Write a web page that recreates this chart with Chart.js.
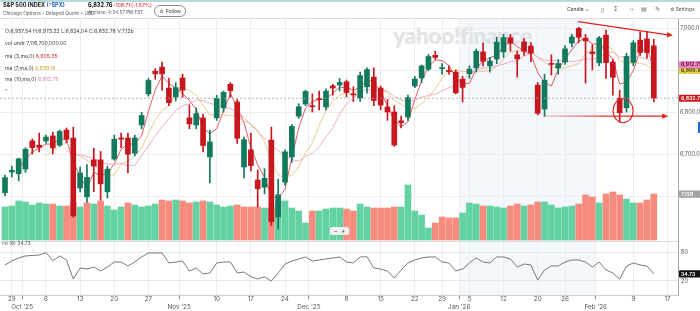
<!DOCTYPE html>
<html>
<head>
<meta charset="utf-8">
<script src="https://cdn.jsdelivr.net/npm/chart.js@4.4.1/dist/chart.umd.min.js"></script>
<style>
  html, body { margin: 0; padding: 0; background: #fff; }
  #wrap { position: relative; width: 700px; height: 311px; overflow: hidden; font-family: Inter, "Noto Sans", sans-serif; }
  #c { position: absolute; left: 0; top: 0; z-index: 2; }
  .t { position: absolute; white-space: nowrap; line-height: 1; z-index: 3; }
  #topline { position: absolute; left: 0; top: 0; width: 700px; height: 1.5px; background: #b7d9d9; z-index: 3; }
  #mark { position: absolute; left: 393px; top: 21px; font: 800 23px Lato, "Liberation Sans", sans-serif; color: #e4e4e4; letter-spacing: -0.6px; z-index: 1; }
  #follow { position: absolute; left: 154px; top: 4.5px; width: 30px; height: 10px; border: 0.8px solid #8a8a8a; border-radius: 6px; font-size: 5px; color: #333; text-align: center; line-height: 10px; z-index: 3; }
  #zoomer { position: absolute; left: 330px; top: 227px; width: 19px; height: 8px; background: #efefef; border-radius: 2px; font-size: 6px; color: #444; text-align: center; line-height: 8px; z-index: 3; }
  #tab { position: absolute; left: 698px; top: 122px; width: 2px; height: 11px; background: #1c6fe0; z-index: 3; }
</style>
</head>
<body>
<div id="wrap">
  <div id="mark">yahoo!finance</div>
  <canvas id="c" width="700" height="311"></canvas>
  <div id="topline"></div>

  <div class="t" style="left:3px;top:2.5px;font-size:5.6px;font-weight:700;color:#1d1d1f">S&amp;P 500 INDEX <span style="color:#2b62d0">(^SPX)</span></div>
  <div class="t" style="left:3px;top:10.5px;font-size:4.8px;color:#5b5b5b">Chicago Options - Delayed Quote • USD</div>
  <div class="t" style="left:88px;top:3px;font-size:5.6px;font-weight:700;color:#111">6,832.76</div>
  <div class="t" style="left:113px;top:3.2px;font-size:5.2px;color:#d1202a">-108.71</div>
  <div class="t" style="left:131px;top:3.2px;font-size:5.2px;color:#d1202a">(-1.57%)</div>
  <div class="t" style="left:88px;top:11px;font-size:4.6px;color:#555">At close: 4:54:57 PM EST</div>
  <div id="follow">☆ Follow</div>
  <div class="t" style="left:567px;top:7px;font-size:5px;color:#333">Candle ⌄</div>
  <div class="t" style="left:601px;top:6.5px;font-size:6px;color:#666">▯</div>
  <div class="t" style="left:614px;top:6.8px;font-size:5.5px;color:#666">Σ</div>
  <div class="t" style="left:629px;top:6.8px;font-size:5.5px;color:#666">⤳</div>
  <div class="t" style="left:641px;top:6.5px;font-size:5.5px;color:#666">▤</div>
  <div class="t" style="left:655px;top:6.5px;font-size:5.5px;color:#666">✎</div>
  <div class="t" style="left:670px;top:7px;font-size:5px;color:#555">⚙ Settings</div>

  <div class="t" id="lgOhlc" style="left:5px;top:28.5px;font-size:5.2px;color:#444"></div>
  <div class="t" id="lgVol" style="left:5px;top:41px;font-size:5.2px;color:#444"></div>
  <div class="t" id="lgMa3" style="left:5px;top:53.5px;font-size:5.2px;color:#444"></div>
  <div class="t" id="lgMa7" style="left:5px;top:65.5px;font-size:5.2px;color:#444"></div>
  <div class="t" id="lgMa10" style="left:5px;top:77px;font-size:5.2px;color:#444"></div>
  <div class="t" style="left:5px;top:89px;font-size:5.5px;color:#666">^</div>
  <div class="t" id="lgRsi" style="left:2px;top:241px;font-size:5px;color:#555"></div>
  <div id="zoomer">−&nbsp;&nbsp;+</div>
  <div id="tab"></div>
</div>

<script>
// trading days shown on the chart, then the empty days the axis runs on to
const dates = [
  '2025-09-26','2025-09-29','2025-09-30',
  '2025-10-01','2025-10-02','2025-10-03','2025-10-06','2025-10-07','2025-10-08','2025-10-09','2025-10-10',
  '2025-10-13','2025-10-14','2025-10-15','2025-10-16','2025-10-17','2025-10-20','2025-10-21','2025-10-22',
  '2025-10-23','2025-10-24','2025-10-27','2025-10-28','2025-10-29','2025-10-30','2025-10-31',
  '2025-11-03','2025-11-04','2025-11-05','2025-11-06','2025-11-07','2025-11-10','2025-11-11','2025-11-12',
  '2025-11-13','2025-11-14','2025-11-17','2025-11-18','2025-11-19','2025-11-20','2025-11-21','2025-11-24',
  '2025-11-25','2025-11-26','2025-11-28',
  '2025-12-01','2025-12-02','2025-12-03','2025-12-04','2025-12-05','2025-12-08','2025-12-09','2025-12-10',
  '2025-12-11','2025-12-12','2025-12-15','2025-12-16','2025-12-17','2025-12-18','2025-12-19','2025-12-22',
  '2025-12-23','2025-12-24','2025-12-26','2025-12-29','2025-12-30','2025-12-31',
  '2026-01-02','2026-01-05','2026-01-06','2026-01-07','2026-01-08','2026-01-09','2026-01-12','2026-01-13',
  '2026-01-14','2026-01-15','2026-01-16','2026-01-20','2026-01-21','2026-01-22','2026-01-23','2026-01-26',
  '2026-01-27','2026-01-28','2026-01-29','2026-01-30',
  '2026-02-02','2026-02-03','2026-02-04','2026-02-05','2026-02-06','2026-02-09','2026-02-10','2026-02-11','2026-02-12'
];
const futureDates = ['2026-02-13','2026-02-17','2026-02-18'];

const opens = [
  6608,6657,6653,6664,6731,6721,6731,6743,6721,6757,6738,6619,6598,6686,6686,6610,6688,6738,6738,6702,
  6769,6843,6897,6907,6857,6836,6881,6786,6769,6786,6693,6786,6810,6866,6824,6669,6710,6638,6621,6733,
  6550,6633,6693,6790,6819,6813,6832,6812,6862,6864,6872,6843,6833,6860,6883,6857,6812,6800,6779,6788,
  6862,6881,6902,6935,6903,6899,6895,6878,6891,6905,6943,6910,6926,6943,6977,6936,6967,6957,6864,6807,
  6915,6905,6919,6964,6999,6976,6943,6917,6983,6919,6833,6810,6918,6971,6974,6957.54
];
const highs = [
  6650,6671,6690,6715,6736,6750,6745,6752,6757,6762,6764,6669,6675,6714,6706,6671,6745,6750,6750,6745,
  6799,6880,6903,6919,6881,6870,6890,6817,6810,6795,6757,6840,6850,6870,6830,6740,6750,6662,6665,6764,
  6640,6710,6770,6820,6852,6843,6850,6855,6866,6880,6876,6860,6895,6905,6905,6862,6830,6815,6790,6840,
  6885,6912,6937,6945,6915,6910,6900,6885,6910,6950,6964,6930,6978,6985,6985,6945,6975,6965,6870,6890,
  6936,6925,6958,6985,7002,6985,6960,6980,6995,6925,6852,6940,6970,6991,6990,6973.22
];
const lows = [
  6600,6645,6636,6656,6700,6705,6726,6700,6718,6727,6550,6610,6585,6610,6590,6595,6685,6715,6655,6695,
  6760,6838,6878,6852,6815,6826,6835,6760,6760,6705,6631,6780,6800,6835,6725,6643,6660,6574,6605,6530,
  6521,6625,6680,6785,6815,6800,6805,6805,6840,6850,6836,6825,6825,6845,6815,6805,6780,6718,6762,6780,
  6858,6870,6898,6925,6890,6890,6843,6824,6880,6895,6910,6895,6915,6930,6945,6883,6935,6920,6793,6790,
  6888,6890,6913,6955,6965,6869,6900,6910,6880,6840,6776,6800,6910,6935,6928,6824.04
];
const closes = [
  6643.70,6661.21,6688.46,6711.20,6715.35,6715.79,6740.28,6714.59,6753.72,6735.11,6552.51,6654.72,6644.31,
  6671.06,6629.07,6664.01,6735.13,6735.35,6699.40,6738.44,6791.69,6875.16,6890.89,6890.59,6822.34,6858.00,
  6851.97,6771.55,6796.29,6720.32,6728.80,6832.43,6846.61,6850.92,6737.49,6734.11,6672.41,6617.32,6642.16,
  6538.76,6602.99,6705.12,6765.88,6812.61,6849.09,6812.63,6829.37,6849.72,6857.12,6870.40,6846.51,6840.51,
  6886.68,6901.00,6827.41,6816.51,6800.26,6721.43,6774.76,6834.50,6878.49,6909.79,6932.05,6929.94,6905.74,
  6896.24,6845.50,6858.47,6902.05,6944.82,6920.93,6921.46,6966.28,6977.27,6963.74,6926.60,6944.47,6940.01,
  6796.86,6875.62,6913.35,6915.61,6950.23,6978.60,6978.03,6969.01,6939.01,6976.44,6917.81,6882.72,6798.40,
  6932.30,6964.82,6941.81,6941.47,6832.76
];
// volume, billions of shares
const volumes = [
  5.11,5.26,6.04,5.88,5.42,5.73,5.57,5.57,5.26,5.26,5.80,5.11,5.73,5.57,6.04,5.26,4.64,5.11,5.73,5.42,
  5.11,5.26,5.57,6.19,6.04,6.19,6.04,5.73,5.88,6.04,5.88,5.42,5.11,5.26,5.42,5.11,5.11,5.11,4.95,5.00,
  6.04,6.04,4.95,4.49,2.63,4.49,4.49,4.80,4.95,4.95,4.80,4.49,5.57,5.11,4.95,4.95,4.95,5.11,5.11,8.51,
  4.49,3.87,1.86,2.63,3.56,3.41,3.41,4.18,5.73,5.57,5.26,5.26,5.11,4.95,5.26,5.57,5.26,5.42,5.88,5.88,
  5.42,4.95,5.11,5.26,5.57,6.97,6.66,5.73,7.12,7.43,6.97,6.35,5.73,5.73,6.19,7.1187
];
const rsi6 = [
  53.1,61.4,67.6,71.8,72.8,73.8,78.6,62.0,71.8,63.5,24.1,46.9,44.8,49.0,40.7,49.0,59.3,59.3,51.1,59.3,
  69.7,78.0,78.0,78.0,57.3,59.3,61.4,40.7,46.9,34.5,36.6,57.3,59.3,59.3,36.6,38.6,28.9,24.1,28.9,20.0,
  36.6,55.2,61.4,65.5,69.7,61.4,63.5,65.5,67.6,69.7,59.3,57.3,69.7,70.3,46.9,44.8,40.7,26.2,42.8,57.3,
  63.5,67.6,69.7,69.7,59.3,57.3,40.7,44.8,57.3,67.6,59.3,57.3,69.7,69.7,65.5,49.0,55.2,53.1,22.1,42.8,
  51.1,51.1,59.3,63.5,63.5,59.3,49.0,59.3,42.8,36.6,24.1,51.1,57.3,53.1,51.1,34.73
];
const maPeriods = [3, 7, 10];

// hand-drawn marks on the reference, in (day index, price) terms
const trendArrow = { x0: 83.9, p0: 7015, x1: 97.8, p1: 6982 };
const supportArrow = { x0: 78.8, p0: 6790, x1: 97.1, p1: 6790 };
const ring = { x: 90.5, p: 6803 };

const UP = '#12795d', DN = '#c8161e';
const VOL_UP = '#62d2a2', VOL_DN = '#f78b7d';
const MA_COL = ['#de4a4f', '#ecc57e', '#eea3c6'];
const MA_TXT = ['#d42a30', '#c8b03a', '#e07bb2'];
const FONT = 'Inter, "Noto Sans", sans-serif';

const X_MIN = -0.732, X_MAX = 98.54;
const P_MIN = 6492.86, P_MAX = 7021.43;
const V_MIN = -8.51, V_MAX = 34.2;
const R_MIN = -8.97, R_MAX = 102.76;

function movingAvg(n) {
  return closes.map((c, i) => {
    if (i < n - 1) return null;
    let s = 0;
    for (let k = i - n + 1; k <= i; k++) s += closes[k];
    return s / n;
  });
}
const mas = maPeriods.map(movingAvg);
const last = closes.length - 1;
const fmt = v => v.toLocaleString('en-US', { minimumFractionDigits: 2, maximumFractionDigits: 2 });

// x ticks: first trading day of each week, month starts on the boundary line
const monNames = ['Jan','Feb','Mar','Apr','May','Jun','Jul','Aug','Sep','Oct','Nov','Dec'];
const allDays = dates.concat(futureDates).map(s => new Date(s + 'T12:00:00'));
const xTicks = [];
allDays.forEach((d, i) => {
  if (i === 0) return;
  const p = allDays[i - 1];
  if (d.getMonth() !== p.getMonth()) {
    xTicks.push({ v: i - 0.5, label: ['', monNames[d.getMonth()] + " '" + String(d.getFullYear()).slice(2)], month: true });
  } else if (d.getDay() < p.getDay() || (d - p) > 4 * 864e5) {
    xTicks.push({ v: i, label: String(d.getDate()), month: false });
  }
});
const tickMap = new Map(xTicks.map(t => [t.v, t]));

const candleCol = closes.map((c, i) => c >= opens[i] ? UP : DN);
const volCol = closes.map((c, i) => (i === 0 || c >= closes[i - 1]) ? VOL_UP : VOL_DN);
const pts = arr => arr.map((v, i) => ({ x: i, y: v }));

// legend text
document.getElementById('lgOhlc').textContent =
  'O:' + fmt(opens[last]) + '  H:' + fmt(highs[last]) + '  L:' + fmt(lows[last]) + '  C:' + fmt(closes[last]) +
  '  V:' + volumes[last].toFixed(2) + 'b';
document.getElementById('lgVol').textContent = 'vol undr  ' + fmt(Math.round(volumes[last] * 1e9));
maPeriods.forEach((n, k) => {
  document.getElementById('lgMa' + n).innerHTML =
    'ma (' + n + ',ma,0)  <span style="color:' + MA_TXT[k] + '">' + fmt(mas[k][last]) + '</span>';
});
document.getElementById('lgRsi').textContent = 'rsi (6)  ' + rsi6[last].toFixed(2);

function arrow(ctx, xa, ya, xb, yb) {
  const ang = Math.atan2(yb - ya, xb - xa);
  ctx.beginPath();
  ctx.moveTo(xa, ya);
  ctx.lineTo(xb - 3 * Math.cos(ang), yb - 3 * Math.sin(ang));
  ctx.stroke();
  ctx.beginPath();
  ctx.moveTo(xb, yb);
  ctx.lineTo(xb - 6 * Math.cos(ang) + 2.6 * Math.sin(ang), yb - 6 * Math.sin(ang) - 2.6 * Math.cos(ang));
  ctx.lineTo(xb - 6 * Math.cos(ang) - 2.6 * Math.sin(ang), yb - 6 * Math.sin(ang) + 2.6 * Math.cos(ang));
  ctx.closePath();
  ctx.fill();
}

function badge(ctx, area, yPix, text, bg, fg) {
  ctx.fillStyle = bg;
  ctx.beginPath();
  ctx.roundRect(area.right + 1, yPix - 3.6, 24, 7.2, 1);
  ctx.fill();
  ctx.fillStyle = fg;
  ctx.font = '600 5.2px ' + FONT;
  ctx.textBaseline = 'middle';
  ctx.textAlign = 'left';
  ctx.fillText(text, area.right + 3, yPix + 0.3);
}

const deco = {
  id: 'deco',
  beforeDraw(chart) {
    const { ctx, chartArea: a, scales: { x } } = chart;
    ctx.save();
    ctx.fillStyle = 'rgba(205,220,235,0.22)';
    const x0 = x.getPixelForValue(66.5), x1 = x.getPixelForValue(86.5);
    ctx.fillRect(x0, a.top, x1 - x0, a.bottom - a.top);
    ctx.restore();
  },
  afterDatasetsDraw(chart) {
    const { ctx, chartArea: a, scales: { x, y, rsi } } = chart;
    ctx.save();
    // pane edges
    ctx.strokeStyle = '#dcdcdc';
    ctx.lineWidth = 1;
    ctx.beginPath();
    ctx.moveTo(a.left, Math.round(rsi.top) + 0.5);
    ctx.lineTo(a.right, Math.round(rsi.top) + 0.5);
    ctx.moveTo(a.left, Math.round(y.top) - 0.5);
    ctx.lineTo(700, Math.round(y.top) - 0.5);
    ctx.stroke();
    // last price line
    const yc = y.getPixelForValue(closes[last]);
    ctx.setLineDash([2, 2]);
    ctx.strokeStyle = '#a0a0a0';
    ctx.lineWidth = 0.8;
    ctx.beginPath();
    ctx.moveTo(a.left, yc);
    ctx.lineTo(a.right, yc);
    ctx.stroke();
    ctx.setLineDash([]);
    // hand-drawn red marks
    ctx.strokeStyle = '#e3221c';
    ctx.fillStyle = '#e3221c';
    ctx.lineWidth = 1.3;
    arrow(ctx, x.getPixelForValue(trendArrow.x0), y.getPixelForValue(trendArrow.p0),
      x.getPixelForValue(trendArrow.x1), y.getPixelForValue(trendArrow.p1));
    const sx0 = x.getPixelForValue(supportArrow.x0), sx1 = x.getPixelForValue(supportArrow.x1);
    const g = ctx.createLinearGradient(sx0, 0, sx1, 0);
    g.addColorStop(0, 'rgba(227,34,28,0.25)');
    g.addColorStop(0.5, 'rgba(227,34,28,0.9)');
    g.addColorStop(1, '#e3221c');
    ctx.strokeStyle = g;
    arrow(ctx, sx0, y.getPixelForValue(supportArrow.p0), sx1, y.getPixelForValue(supportArrow.p1));
    ctx.strokeStyle = '#e3221c';
    ctx.lineWidth = 1.1;
    ctx.beginPath();
    ctx.ellipse(x.getPixelForValue(ring.x), y.getPixelForValue(ring.p), 10, 12, 0, 0, Math.PI * 2);
    ctx.stroke();
    ctx.restore();
  },
  afterDraw(chart) {
    const { ctx, chartArea: a, scales: { y, vol, rsi } } = chart;
    ctx.save();
    badge(ctx, a, y.getPixelForValue(mas[1][last]), fmt(mas[1][last]), '#e6d14c', '#3a3a10');
    badge(ctx, a, y.getPixelForValue(mas[2][last]), fmt(mas[2][last]), '#ef86c0', '#4a1030');
    badge(ctx, a, y.getPixelForValue(closes[last]), fmt(closes[last]), DN, '#fff');
    badge(ctx, a, vol.getPixelForValue(volumes[last]), volumes[last].toFixed(2) + 'B', '#a3a3a3', '#fff');
    badge(ctx, a, rsi.getPixelForValue(rsi6[last]), rsi6[last].toFixed(2), '#111', '#fff');
    ctx.restore();
  }
};

new Chart(document.getElementById('c'), {
  type: 'bar',
  data: {
    datasets: [
      { type: 'bar', data: pts(volumes), yAxisID: 'vol', backgroundColor: volCol, barThickness: 6, grouped: false, order: 10 },
      ...maPeriods.map((n, k) => ({
        type: 'line', data: pts(mas[k]), yAxisID: 'y', borderColor: MA_COL[k], borderWidth: 0.9,
        pointRadius: 0, tension: 0, order: 5 - k
      })),
      { type: 'bar', data: closes.map((c, i) => ({ x: i, y: [lows[i], highs[i]] })), yAxisID: 'y',
        backgroundColor: candleCol, barThickness: 1, grouped: false, order: 2 },
      { type: 'bar', data: closes.map((c, i) => ({ x: i, y: [opens[i], c] })), yAxisID: 'y',
        backgroundColor: candleCol, barThickness: 5, minBarLength: 1, grouped: false, order: 1 },
      { type: 'line', data: pts(rsi6), yAxisID: 'rsi', borderColor: '#6a6a6a', borderWidth: 0.9,
        pointRadius: 0, tension: 0, order: 0 }
    ]
  },
  options: {
    responsive: false,
    animation: false,
    events: [],
    layout: { padding: { top: 19, left: 0, right: 0, bottom: 0 } },
    plugins: { legend: { display: false }, tooltip: { enabled: false } },
    scales: {
      x: {
        type: 'linear', position: 'bottom', min: X_MIN, max: X_MAX, offset: false,
        afterBuildTicks: s => { s.ticks = xTicks.map(t => ({ value: t.v })); },
        afterFit: s => { s.height = 16; s.paddingLeft = 0; s.paddingRight = 0; },
        ticks: {
          autoSkip: false, maxRotation: 0, padding: -4, color: '#555',
          font: { family: FONT, size: 6.3, lineHeight: 1.27 },
          callback: v => (tickMap.get(v) || { label: '' }).label
        },
        grid: {
          offset: false, color: '#ededed', lineWidth: 1, drawTicks: true, tickLength: 4,
          tickColor: c => (c.tick && tickMap.get(c.tick.value) && tickMap.get(c.tick.value).month) ? '#888' : 'rgba(0,0,0,0)'
        },
        border: { display: true, color: '#cfcfcf' }
      },
      y: {
        type: 'linear', position: 'right', stack: 'pane', stackWeight: 222, min: P_MIN, max: P_MAX,
        afterBuildTicks: s => { s.ticks = [6600, 6700, 6800, 6900, 7000].map(v => ({ value: v })); },
        afterFit: s => { s.width = 22; s.paddingTop = 0; s.paddingBottom = 0; },
        ticks: { padding: 2, color: '#555', font: { family: FONT, size: 5.6 }, callback: v => fmt(v) },
        grid: { color: '#ededed', drawTicks: false },
        border: { display: true, color: '#a8a8a8' }
      },
      vol: { type: 'linear', position: 'right', display: false, min: V_MIN, max: V_MAX },
      rsi: {
        type: 'linear', position: 'right', stack: 'pane', stackWeight: 54, min: R_MIN, max: R_MAX,
        afterBuildTicks: s => { s.ticks = [20, 80].map(v => ({ value: v })); },
        afterFit: s => { s.width = 22; s.paddingTop = 0; s.paddingBottom = 0; },
        ticks: { padding: 3, color: '#555', font: { family: FONT, size: 5.6 }, callback: v => String(v) },
        grid: { color: '#e6e6e6', drawTicks: false },
        border: { display: true, color: '#a8a8a8' }
      }
    }
  },
  plugins: [deco]
});
</script>
</body>
</html>
